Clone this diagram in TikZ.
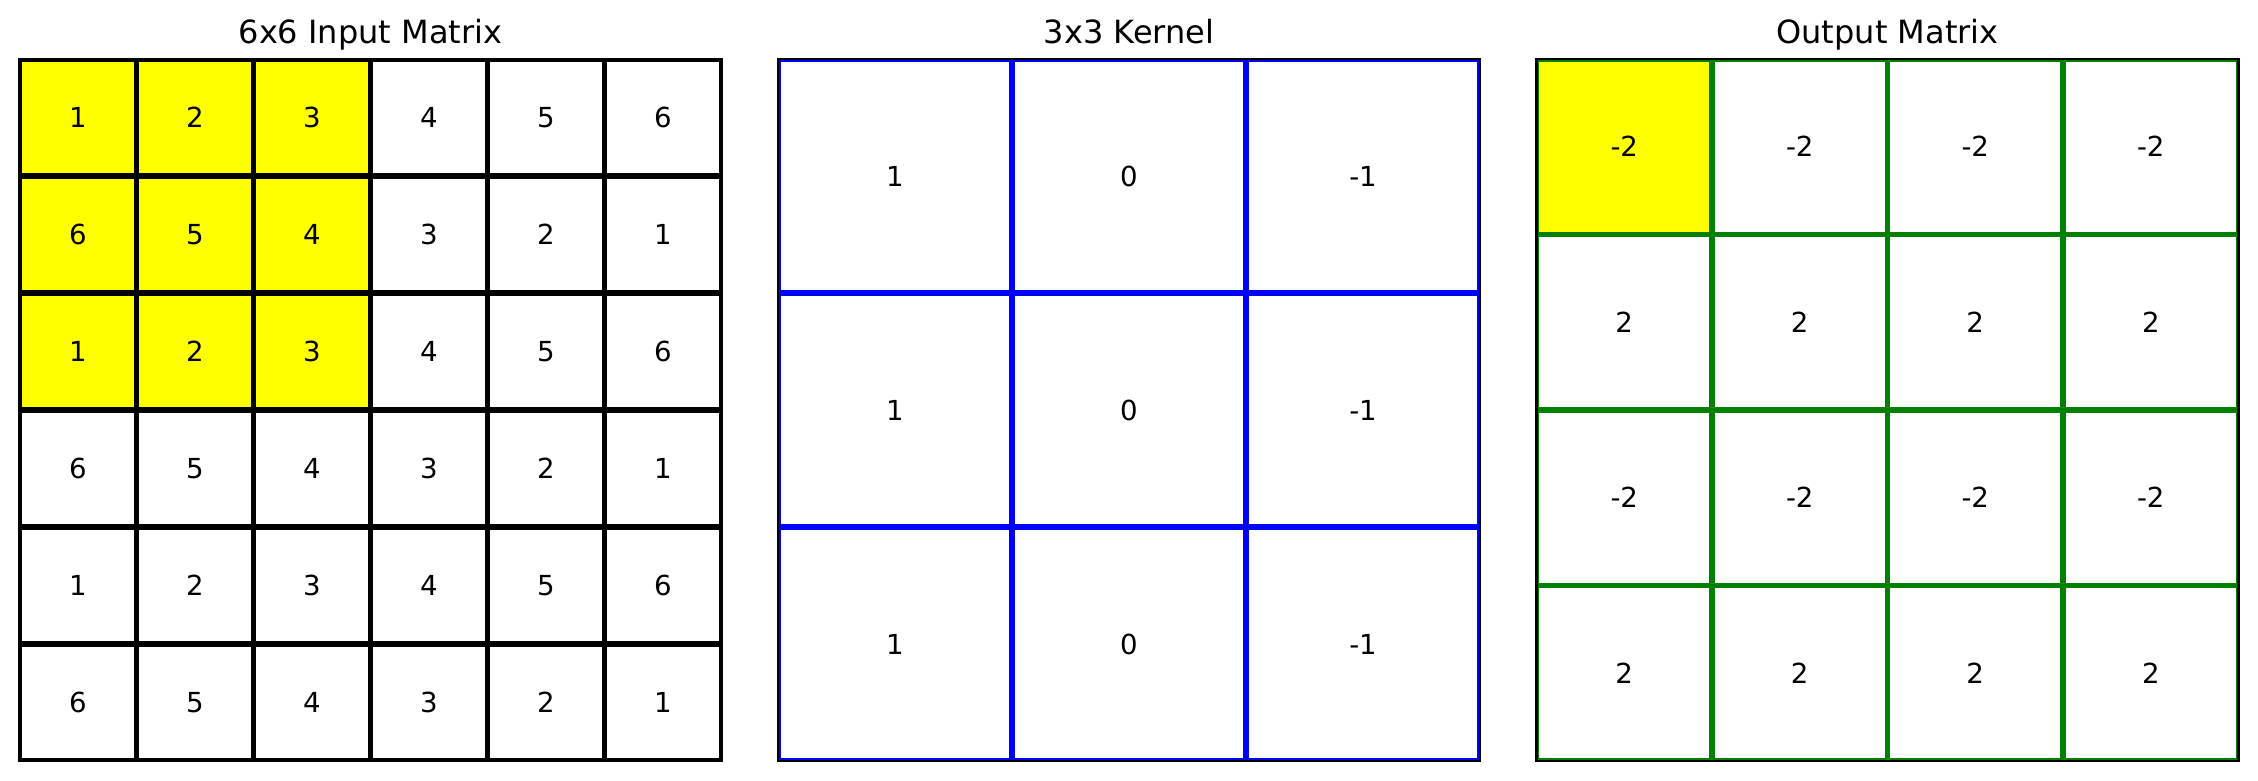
\documentclass[tikz,border=0pt]{standalone}
\usepackage{fontspec}
\setmainfont{DejaVu Sans}
\definecolor{mgreen}{HTML}{008000}
\definecolor{myellow}{HTML}{FFFF00}
\definecolor{mblue}{HTML}{0000FF}
\begin{document}
\begin{tikzpicture}[x=1pt,y=-1pt,
  cellbox/.style={rectangle, draw, line width=5.56pt, inner sep=0pt, outer sep=0pt,
    font=\fontsize{27.6}{33}\selectfont},
  titlebox/.style={anchor=base, font=\fontsize{32}{38}\selectfont},
  spine/.style={draw=black, line width=2.2pt}]
\useasboundingbox (0,0) rectangle (2258,781);
\fill[white] (0,0) rectangle (2258,781);

% ---------- Panel 1: input ----------
\node[titlebox] (t1) at (370.5,44) {6x6 Input Matrix};
\begin{scope}
\clip (19.5,59) rectangle (721.5,761);
\foreach \row [count=\i from 0] in {{1,2,3,4,5,6},{6,5,4,3,2,1},{1,2,3,4,5,6},{6,5,4,3,2,1},{1,2,3,4,5,6},{6,5,4,3,2,1}} {
  \foreach \v [count=\j from 0] in \row {
    \ifnum\i<3 \ifnum\j<3 \def\fc{myellow}\else\def\fc{white}\fi\else\def\fc{white}\fi
    \node[cellbox, draw=black, fill=\fc, minimum size=117pt] (in-\i-\j)
      at ({19.5+58.5+117*\j},{59+58.5+117*\i}) {\v};
  }
}
\end{scope}
\draw[spine] (19.5,59) rectangle (721.5,761);

% ---------- Panel 2: kernel ----------
\node[titlebox] (t2) at (1129,44) {3x3 Kernel};
\begin{scope}
\clip (778,59) rectangle (1480,761);
\foreach \row [count=\i from 0] in {{1,0,-1},{1,0,-1},{1,0,-1}} {
  \foreach \v [count=\j from 0] in \row {
    \node[cellbox, draw=mblue, fill=white, minimum size=234pt] (k-\i-\j)
      at ({778+117+234*\j},{59+117+234*\i}) {\v};
  }
}
\end{scope}
\draw[spine] (778,59) rectangle (1480,761);

% ---------- Panel 3: output ----------
\node[titlebox] (t3) at (1887.5,44) {Output Matrix};
\begin{scope}
\clip (1536.5,59) rectangle (2238.5,761);
\foreach \row [count=\i from 0] in {{-2,-2,-2,-2},{2,2,2,2},{-2,-2,-2,-2},{2,2,2,2}} {
  \foreach \v [count=\j from 0] in \row {
    \ifnum\i=0 \ifnum\j=0 \def\fc{myellow}\else\def\fc{white}\fi\else\def\fc{white}\fi
    \node[cellbox, draw=mgreen, fill=\fc, minimum size=175.5pt] (out-\i-\j)
      at ({1536.5+87.75+175.5*\j},{59+87.75+175.5*\i}) {\v};
  }
}
\end{scope}
\draw[spine] (1536.5,59) rectangle (2238.5,761);
\end{tikzpicture}
\end{document}
